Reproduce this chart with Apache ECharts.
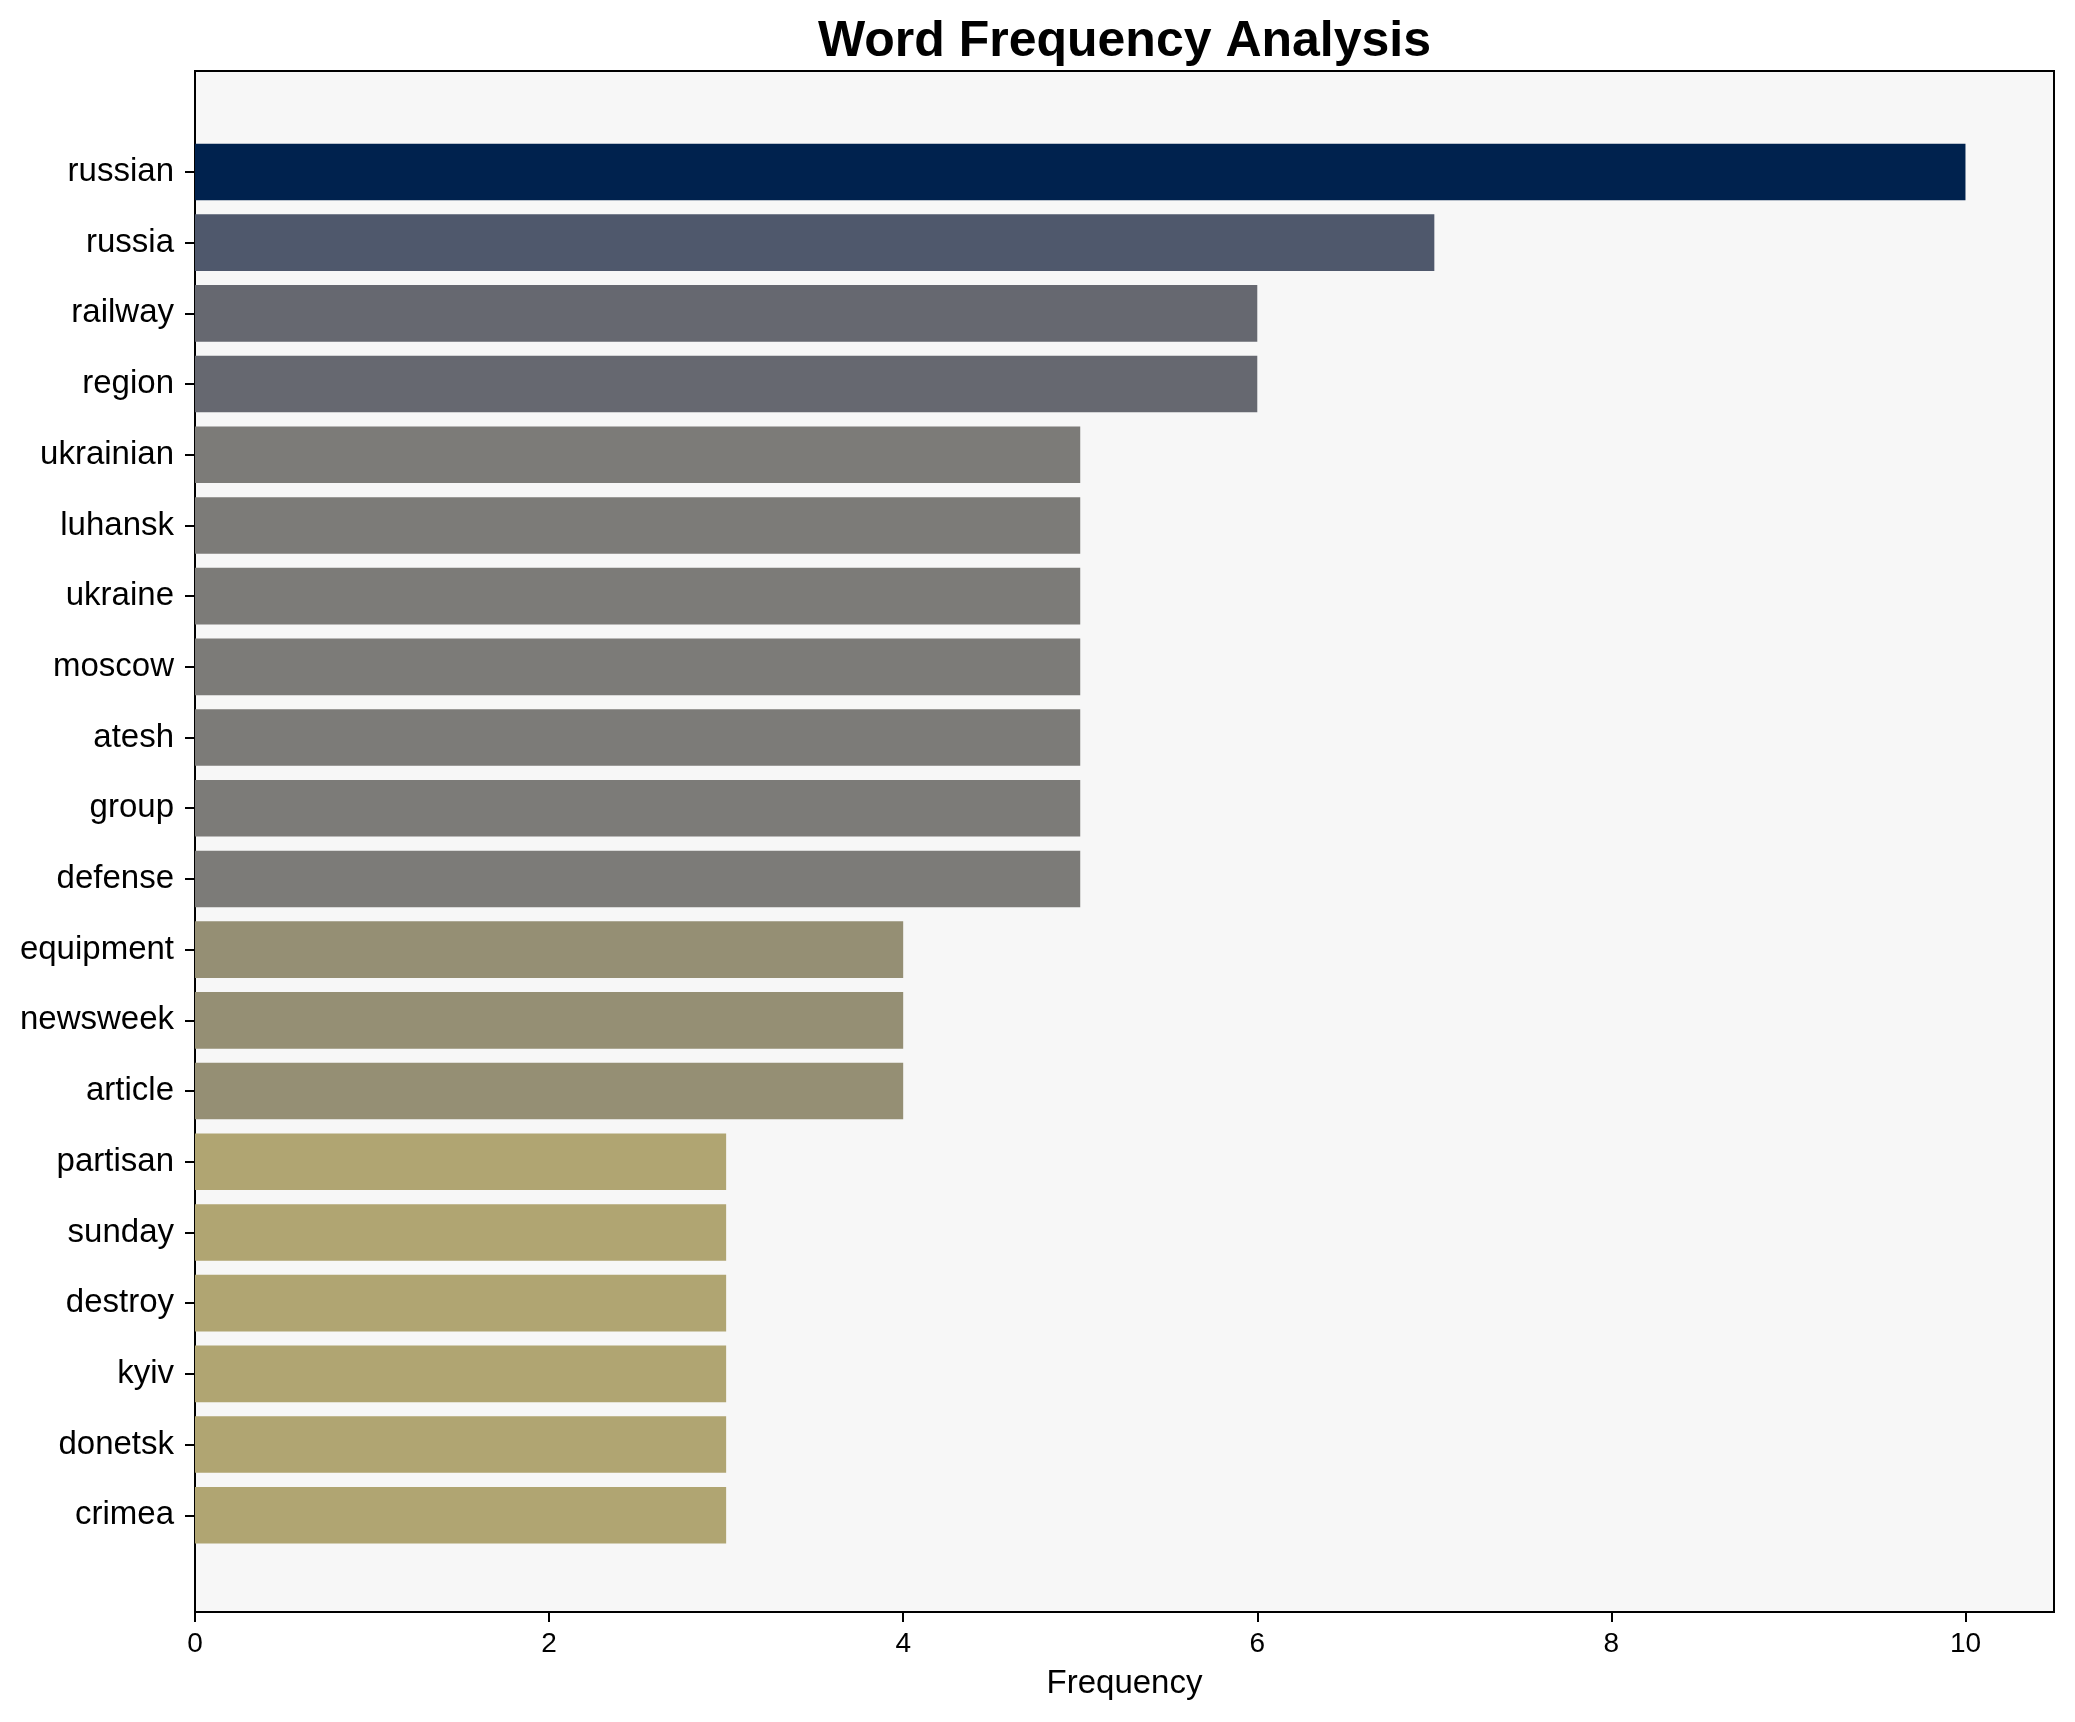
<!DOCTYPE html>
<html>
<head>
<meta charset="utf-8">
<script src="https://cdn.jsdelivr.net/npm/echarts@6/dist/echarts.min.js"></script>
<style>
html,body{margin:0;padding:0;background:#fff;}
#chart{width:2075px;height:1722px;}
</style>
</head>
<body>
<div id="chart"></div>
<script>
const words = ["russian","russia","railway","region","ukrainian","luhansk","ukraine","moscow","atesh","group","defense","equipment","newsweek","article","partisan","sunday","destroy","kyiv","donetsk","crimea"];
const frequencies = [10,7,6,6,5,5,5,5,5,5,5,4,4,4,3,3,3,3,3,3];
const xTicks = [0,2,4,6,8,10];
const colorByValue = {10:"#00224e",7:"#4f586c",6:"#666870",5:"#7c7b78",4:"#958f74",3:"#b0a572"};

const FONT = "Liberation Sans, Arial, sans-serif";
const chart = echarts.init(document.getElementById('chart'), null, {renderer:'canvas'});
const L = 195, R = 2075-2054, T0 = 71, B0 = 1722-1612;
chart.setOption({
  backgroundColor:'#ffffff',
  animation:false,
  graphic:[{
    type:'text', x:(195+2054)/2, y:42.5,
    style:{text:'Word Frequency Analysis',fontFamily:FONT,fontSize:50,fontWeight:'bold',fill:'#000',
      textAlign:'center',textVerticalAlign:'middle'}
  }],
  grid:[
    {left:L,right:R,top:T0,bottom:B0,show:true,backgroundColor:'#f7f7f7',borderColor:'#000',borderWidth:2,containLabel:false},
    {left:L,right:R,top:136.6,bottom:1722-1550.6,containLabel:false}
  ],
  xAxis:[
    {type:'value',gridIndex:0,min:0,max:10.5,interval:2,
     axisLine:{show:false},splitLine:{show:false},
     axisTick:{show:true,length:10,lineStyle:{color:'#000',width:2}},
     axisLabel:{fontFamily:FONT,fontSize:28,color:'#000',margin:18,showMaxLabel:false,
       formatter:function(v){return xTicks.indexOf(v)>=0?String(v):'';}},
     name:'Frequency',nameLocation:'middle',nameGap:55,
     nameTextStyle:{fontFamily:FONT,fontSize:33,color:'#000'}},
    {type:'value',gridIndex:1,min:0,max:10.5,show:false}
  ],
  yAxis:[
    {type:'value',gridIndex:0,show:false,min:0,max:1},
    {type:'category',gridIndex:1,data:words,inverse:true,
     axisLine:{show:false},
     axisTick:{show:true,alignWithLabel:true,length:10,lineStyle:{color:'#000',width:2}},
     axisLabel:{fontFamily:FONT,fontSize:33,color:'#000',margin:21},
     splitLine:{show:false}}
  ],
  series:[{
    type:'bar',xAxisIndex:1,yAxisIndex:1,
    data:frequencies.map(v=>({value:v,itemStyle:{color:colorByValue[v]}})),
    barWidth:'80%'
  }]
});
</script>
</body>
</html>
